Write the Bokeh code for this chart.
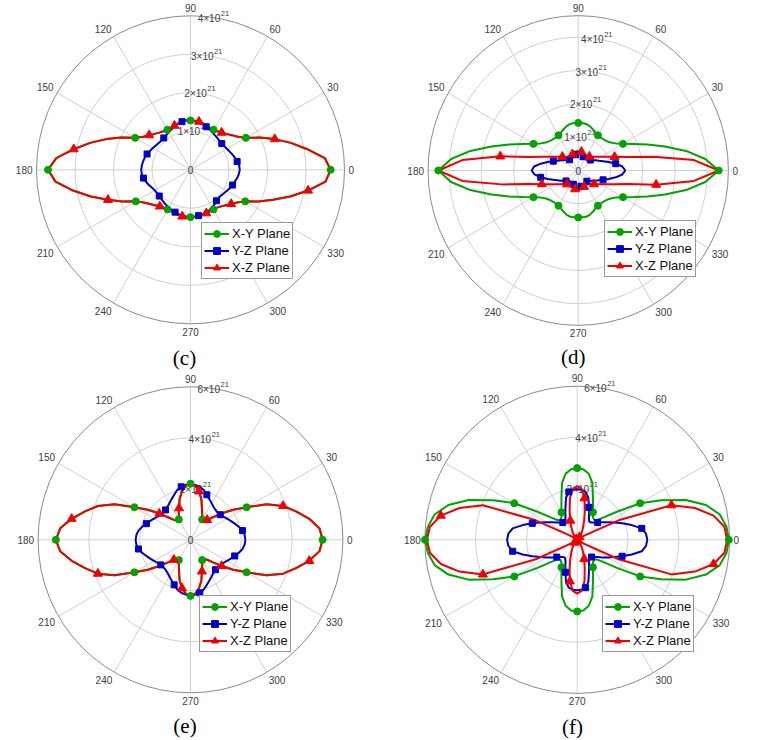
import numpy as np
from bokeh.plotting import figure
from bokeh.models import Range1d, ColumnDataSource, Legend, LegendItem
from bokeh.layouts import gridplot
from bokeh.embed import file_html
from bokeh.resources import INLINE
from bokeh.core.properties import value

# ---------------- data (radius in units of 1e21, sampled every 5 degrees) ----------------
ANGLES = list(range(0, 360, 5))
ANGLE_TICKS = [0, 30, 60, 90, 120, 150, 180, 210, 240, 270, 300, 330]
ANGLE_TICK_LABELS = ["0", "30", "60", "90", "120", "150", "180", "210", "240", "270", "300", "330"]
SERIES_NAMES = ["X-Y Plane", "Y-Z Plane", "X-Z Plane"]
RTICK_BASE = "×10"
RTICK_EXP = "21"

# panel (c)
C_RTICKS = [1, 2, 3, 4]
C_RMAX = 4.0
C_XY = [3.64, 3.50, 3.08, 2.70, 2.33, 1.98, 1.66, 1.50, 1.40, 1.32, 1.26, 1.22, 1.20, 1.20, 1.22, 1.25, 1.27, 1.28, 1.28,
        1.28, 1.27, 1.25, 1.22, 1.20, 1.20, 1.22, 1.26, 1.32, 1.40, 1.50, 1.66, 1.98, 2.33, 2.70, 3.08, 3.50,
        3.70, 3.52, 3.10, 2.68, 2.28, 1.95, 1.64, 1.48, 1.38, 1.30, 1.24, 1.20, 1.19, 1.19, 1.20, 1.22, 1.23, 1.23, 1.23,
        1.23, 1.23, 1.22, 1.20, 1.19, 1.19, 1.20, 1.24, 1.30, 1.38, 1.48, 1.64, 1.95, 2.28, 2.68, 3.10, 3.52]
C_YZ = [1.28, 1.27, 1.23, 1.20, 1.16, 1.12, 1.09, 1.07, 1.06, 1.06, 1.08, 1.10, 1.13, 1.16, 1.19, 1.22, 1.25, 1.27, 1.28,
        1.29, 1.27, 1.24, 1.20, 1.16, 1.13, 1.10, 1.08, 1.07, 1.08, 1.10, 1.13, 1.16, 1.20, 1.23, 1.25, 1.27,
        1.28, 1.27, 1.24, 1.20, 1.15, 1.10, 1.07, 1.06, 1.06, 1.07, 1.09, 1.11, 1.13, 1.15, 1.17, 1.19, 1.21, 1.22, 1.23,
        1.22, 1.21, 1.20, 1.18, 1.16, 1.13, 1.09, 1.05, 1.03, 1.04, 1.06, 1.09, 1.13, 1.16, 1.19, 1.23, 1.26]
C_XZ = [3.64, 3.50, 3.08, 2.70, 2.33, 1.98, 1.66, 1.50, 1.40, 1.32, 1.26, 1.22, 1.20, 1.20, 1.22, 1.25, 1.27, 1.28, 1.28,
        1.28, 1.27, 1.25, 1.22, 1.20, 1.20, 1.22, 1.26, 1.32, 1.40, 1.50, 1.66, 1.98, 2.33, 2.70, 3.08, 3.50,
        3.70, 3.52, 3.10, 2.68, 2.28, 1.95, 1.64, 1.48, 1.38, 1.30, 1.24, 1.20, 1.19, 1.19, 1.20, 1.22, 1.23, 1.23, 1.23,
        1.23, 1.23, 1.22, 1.20, 1.19, 1.19, 1.20, 1.24, 1.30, 1.38, 1.48, 1.64, 1.95, 2.28, 2.68, 3.10, 3.52]

# panel (d)
D_RTICKS = [1, 2, 3, 4]
D_RMAX = 4.65
D_XY = [4.35, 3.95, 3.39, 2.78, 2.28, 1.88, 1.60, 1.42, 1.31, 1.25, 1.22, 1.21, 1.22, 1.26, 1.32, 1.38, 1.42, 1.43, 1.43,
        1.43, 1.42, 1.38, 1.32, 1.26, 1.22, 1.21, 1.22, 1.25, 1.31, 1.42, 1.60, 1.88, 2.28, 2.78, 3.39, 3.95,
        4.33, 3.95, 3.39, 2.78, 2.28, 1.88, 1.60, 1.42, 1.31, 1.25, 1.22, 1.21, 1.22, 1.26, 1.32, 1.38, 1.41, 1.41, 1.41,
        1.41, 1.41, 1.38, 1.32, 1.26, 1.22, 1.21, 1.22, 1.25, 1.31, 1.42, 1.60, 1.88, 2.28, 2.78, 3.39, 3.95]
D_YZ = [1.46, 1.37, 1.18, 0.98, 0.82, 0.70, 0.61, 0.54, 0.49, 0.45, 0.42, 0.41, 0.41, 0.42, 0.44, 0.46, 0.48, 0.50, 0.50,
        0.50, 0.48, 0.46, 0.44, 0.42, 0.41, 0.41, 0.42, 0.45, 0.49, 0.54, 0.61, 0.70, 0.82, 0.98, 1.18, 1.37,
        1.44, 1.36, 1.18, 0.98, 0.82, 0.70, 0.61, 0.54, 0.49, 0.45, 0.42, 0.41, 0.41, 0.42, 0.44, 0.46, 0.48, 0.50, 0.50,
        0.50, 0.48, 0.46, 0.44, 0.42, 0.41, 0.41, 0.42, 0.45, 0.49, 0.54, 0.61, 0.70, 0.82, 0.98, 1.18, 1.37]
D_XZ = [4.35, 3.60, 2.36, 1.58, 1.20, 0.97, 0.82, 0.72, 0.64, 0.58, 0.54, 0.51, 0.50, 0.50, 0.52, 0.55, 0.57, 0.58, 0.58,
        0.58, 0.57, 0.55, 0.52, 0.50, 0.50, 0.51, 0.54, 0.58, 0.64, 0.72, 0.82, 0.97, 1.20, 1.58, 2.45, 3.60,
        4.33, 3.60, 2.40, 1.58, 1.20, 0.97, 0.82, 0.72, 0.64, 0.58, 0.54, 0.51, 0.50, 0.50, 0.52, 0.55, 0.57, 0.58, 0.58,
        0.58, 0.57, 0.55, 0.52, 0.50, 0.50, 0.51, 0.54, 0.58, 0.64, 0.72, 0.82, 0.97, 1.20, 1.58, 2.45, 3.60]

# panel (e)
E_RTICKS = [2, 4, 6]
E_RMAX = 6.0
E_XY = [5.20, 5.10, 4.75, 4.30, 3.88, 3.30, 2.55, 2.05, 1.60, 1.25, 1.02, 0.91, 0.92, 1.09, 1.32, 1.65, 1.93, 2.12, 2.20,
        2.12, 1.93, 1.65, 1.32, 1.09, 0.92, 0.91, 1.02, 1.25, 1.60, 2.05, 2.55, 3.30, 3.88, 4.30, 4.75, 5.15,
        5.30, 5.15, 4.75, 4.30, 3.88, 3.30, 2.55, 2.05, 1.60, 1.25, 1.02, 0.91, 0.92, 1.09, 1.32, 1.65, 1.93, 2.12, 2.20,
        2.12, 1.93, 1.65, 1.32, 1.09, 0.92, 0.91, 1.02, 1.25, 1.60, 2.05, 2.55, 3.30, 3.88, 4.30, 4.75, 5.10]
E_YZ = [2.16, 2.14, 2.08, 1.97, 1.85, 1.75, 1.66, 1.58, 1.53, 1.51, 1.53, 1.58, 1.66, 1.76, 1.88, 2.02, 2.11, 2.16, 2.17,
        2.16, 2.11, 2.02, 1.88, 1.76, 1.66, 1.58, 1.53, 1.51, 1.53, 1.58, 1.66, 1.75, 1.85, 1.97, 2.08, 2.14,
        2.16, 2.14, 2.08, 1.97, 1.85, 1.75, 1.66, 1.58, 1.53, 1.51, 1.53, 1.58, 1.66, 1.76, 1.88, 2.02, 2.11, 2.16, 2.17,
        2.16, 2.11, 2.02, 1.88, 1.76, 1.66, 1.58, 1.53, 1.51, 1.53, 1.58, 1.66, 1.75, 1.85, 1.97, 2.08, 2.14]
E_XZ = [5.20, 5.10, 4.75, 4.30, 3.88, 3.30, 2.55, 2.05, 1.60, 1.25, 1.02, 0.91, 0.92, 1.09, 1.32, 1.65, 1.93, 2.12, 2.20,
        2.12, 1.93, 1.65, 1.32, 1.09, 0.92, 0.91, 1.02, 1.25, 1.60, 2.05, 2.55, 3.30, 3.88, 4.30, 4.75, 5.15,
        5.30, 5.15, 4.75, 4.30, 3.88, 3.30, 2.55, 2.05, 1.60, 1.25, 1.02, 0.91, 0.92, 1.09, 1.32, 1.65, 1.93, 2.12, 2.20,
        2.12, 1.93, 1.65, 1.32, 1.09, 0.92, 0.91, 1.02, 1.25, 1.60, 2.05, 2.55, 3.30, 3.88, 4.30, 4.75, 5.10]

# panel (f)
F_RTICKS = [2, 4, 6]
F_RMAX = 6.0
F_XY = [5.97, 5.90, 5.70, 5.25, 4.55, 3.65, 2.86, 1.91, 1.36, 1.08, 1.03, 1.08, 1.24, 1.47, 1.81, 2.30, 2.62, 2.77, 2.80,
        2.77, 2.62, 2.30, 1.81, 1.47, 1.24, 1.08, 1.03, 1.08, 1.36, 1.91, 2.86, 3.65, 4.55, 5.25, 5.70, 5.90,
        5.99, 5.90, 5.70, 5.25, 4.55, 3.65, 2.86, 1.91, 1.36, 1.08, 1.03, 1.08, 1.24, 1.47, 1.81, 2.30, 2.62, 2.77, 2.80,
        2.77, 2.62, 2.30, 1.81, 1.47, 1.24, 1.08, 1.03, 1.08, 1.36, 1.91, 2.86, 3.65, 4.55, 5.25, 5.70, 5.90]
F_YZ = [2.76, 2.72, 2.58, 2.22, 1.88, 1.60, 1.38, 1.20, 1.05, 0.95, 0.88, 0.85, 0.92, 1.10, 1.35, 1.70, 1.90, 1.96, 1.97,
        1.96, 1.90, 1.70, 1.35, 1.10, 0.92, 0.85, 0.88, 0.95, 1.05, 1.20, 1.38, 1.60, 1.88, 2.22, 2.58, 2.72,
        2.76, 2.72, 2.58, 2.22, 1.88, 1.60, 1.38, 1.20, 1.05, 0.95, 0.88, 0.85, 0.92, 1.10, 1.35, 1.70, 1.90, 1.96, 1.97,
        1.96, 1.90, 1.70, 1.35, 1.10, 0.92, 0.85, 0.88, 0.95, 1.05, 1.20, 1.38, 1.60, 1.88, 2.22, 2.58, 2.72]
F_XZ = [5.90, 5.82, 5.45, 4.80, 3.95, 1.80, 0.30, 0.06, 0.04, 0.07, 0.14, 0.24, 0.38, 0.55, 0.80, 1.15, 1.65, 2.00, 2.10,
        2.00, 1.65, 1.15, 0.80, 0.55, 0.38, 0.24, 0.14, 0.07, 0.04, 0.06, 0.30, 1.80, 3.95, 4.80, 5.45, 5.82,
        5.92, 5.82, 5.45, 4.80, 3.95, 1.80, 0.30, 0.06, 0.04, 0.07, 0.14, 0.24, 0.38, 0.55, 0.80, 1.15, 1.65, 2.00, 2.10,
        2.00, 1.65, 1.15, 0.80, 0.55, 0.38, 0.24, 0.14, 0.07, 0.04, 0.06, 0.30, 1.80, 3.95, 4.80, 5.45, 5.82]

# ---------------- styles / layout ----------------
COLORS = ["#00a300", "#0000c4", "#f00000"]
MARKERS = ["circle", "square", "triangle"]
MARKER_SIZES = [7, 6, 9]
MARKER_PHASE = [0, 10, 20]   # degrees within each 30-degree period where a marker is shown
GRID_COLOR = "#d0d0d0"
EDGE_COLOR = "#8a8a8a"
TICK_COLOR = "#404040"
FONT = "Liberation Sans"


def make_panel(W, H, cx, cy, sx, sy, rmax, rticks, series, legend_xy, caption, cap_dx, cap_dy):
    p = figure(width=W, height=H,
               x_range=Range1d(-cx / sx, (W - cx) / sx),
               y_range=Range1d(-(H - cy) / sy, cy / sy),
               output_backend="svg", toolbar_location=None,
               x_axis_location=None, y_axis_location=None,
               min_border=0, outline_line_color=None,
               background_fill_color="white", border_fill_color="white")
    p.xgrid.visible = False
    p.ygrid.visible = False

    # grid rings
    inner = [r for r in rticks if r < rmax - 1e-9]
    p.ellipse(x=[0] * len(inner), y=[0] * len(inner), width=[2 * r for r in inner],
              height=[2 * r for r in inner], fill_color=None, line_color=GRID_COLOR, line_width=1)
    # spokes
    th = np.radians(ANGLE_TICKS)
    p.segment(x0=0, y0=0, x1=rmax * np.cos(th), y1=rmax * np.sin(th), line_color=GRID_COLOR, line_width=1)
    # outer edge
    p.ellipse(x=[0], y=[0], width=[2 * rmax], height=[2 * rmax], fill_color=None,
              line_color=EDGE_COLOR, line_width=1)

    # angle tick labels
    c, s = np.cos(th), np.sin(th)
    align = ["left" if v > 0.01 else ("right" if v < -0.01 else "center") for v in c]
    base = ["bottom" if v > 0.01 else ("top" if v < -0.01 else "middle") for v in s]
    src = ColumnDataSource(dict(x=rmax * c, y=rmax * s, text=ANGLE_TICK_LABELS, align=align, base=base,
                                xo=4 * c, yo=-4 * s))
    p.text(x="x", y="y", text="text", source=src, text_align="align", text_baseline="base",
           x_offset="xo", y_offset="yo", text_font=value(FONT), text_font_size="10px", text_color=TICK_COLOR)

    # radial tick labels (at 80 degrees): mantissa×10 with raised exponent
    ra = np.radians(80)
    rt = np.array(rticks, dtype=float)
    xs, ys = list(rt * np.cos(ra)), list(rt * np.sin(ra))
    p.text(x=xs, y=ys, text=["%d%s" % (r, RTICK_BASE) for r in rticks], x_offset=3,
           text_align="right", text_baseline="middle", text_font=value(FONT),
           text_font_size="10px", text_color=TICK_COLOR)
    p.text(x=xs, y=ys, text=[RTICK_EXP] * len(rticks), x_offset=3.5, y_offset=-5,
           text_align="left", text_baseline="middle", text_font=value(FONT),
           text_font_size="7.5px", text_color=TICK_COLOR)
    p.text(x=[0], y=[0], text=["0"], text_align="center", text_baseline="middle",
           text_font=value(FONT), text_font_size="10px", text_color=TICK_COLOR)

    # curves
    ang = np.radians(ANGLES + [360])
    lines = []
    for vals, col in zip(series, COLORS):
        if len(vals) != len(ANGLES):
            raise ValueError("series length %d" % len(vals))
        r = np.array(vals + [vals[0]])
        lines.append(p.line(r * np.cos(ang), r * np.sin(ang), line_color=col, line_width=2))
    marks = []
    for vals, col, mk, sz, ph in zip(series, COLORS, MARKERS, MARKER_SIZES, MARKER_PHASE):
        idx = [i for i, a in enumerate(ANGLES) if a % 30 == ph]
        r = np.array([vals[i] for i in idx])
        a = np.radians([ANGLES[i] for i in idx])
        marks.append(p.scatter(r * np.cos(a), r * np.sin(a), marker=mk, size=sz,
                               fill_color=col, line_color=col))

    items = [LegendItem(label=n, renderers=[l, m]) for n, l, m in zip(SERIES_NAMES, lines, marks)]
    legend = Legend(items=items, location=legend_xy, orientation="vertical",
                    padding=2, spacing=0, margin=0, glyph_width=25, glyph_height=17, label_height=17,
                    label_standoff=3, label_text_font=FONT, label_text_font_size="13px",
                    label_text_color="#111111", border_line_color="#333333", border_line_width=1,
                    background_fill_color="white", background_fill_alpha=1.0)
    p.add_layout(legend)

    # caption
    p.text(x=[0], y=[0], text=[caption], x_offset=cap_dx, y_offset=cap_dy, text_align="center",
           text_baseline="middle", text_font=value("Liberation Serif"), text_font_size="21px",
           text_color="black")
    return p


pc = make_panel(385, 370, 190, 169.3, 38.5, 38.5, C_RMAX, C_RTICKS,
                [C_XY, C_YZ, C_XZ], (201, 91), "(c)", -6, 188)
pd_ = make_panel(386, 370, 192.7, 170, 32.3, 33.3, D_RMAX, D_RTICKS,
                 [D_XY, D_YZ, D_XZ], (219, 93), "(d)", -5, 186.5)
pe = make_panel(385, 370, 190, 169.3, 25.4, 25.5, E_RMAX, E_RTICKS,
                [E_XY, E_YZ, E_XZ], (199, 88), "(e)", -5.5, 186.5)
pf = make_panel(386, 370, 191.7, 169.3, 25.4, 25.6, F_RMAX, F_RTICKS,
                [F_XY, F_YZ, F_XZ], (217, 88), "(f)", -4.7, 187)

grid = gridplot([[pc, pd_], [pe, pf]], toolbar_location=None)
open("out.html", "w").write(file_html(grid, INLINE))
